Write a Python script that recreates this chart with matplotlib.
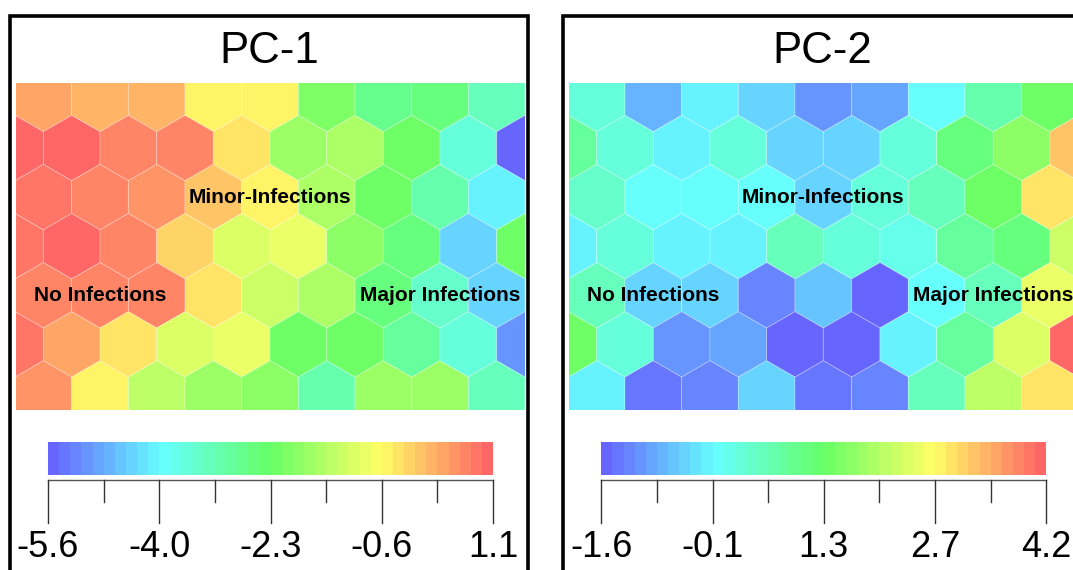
import numpy as np
import matplotlib
matplotlib.use("Agg")
import matplotlib.pyplot as plt
from matplotlib.collections import PolyCollection
from matplotlib.colors import ListedColormap, Normalize, hsv_to_rgb

plt.rcParams['font.family'] = ['Liberation Sans', 'DejaVu Sans']

# ---------------- data ----------------
titles = ["PC-1", "PC-2"]

# SOM node values, rows from top to bottom
# even rows: 9 nodes; odd rows: 10 nodes (first/last half clipped)
pc1_values = [
    [0.36, 0.14, 0.14, -0.59, -0.59, -2.07, -2.71, -2.49, -3.27],
    [1.06, 1.06, 0.59, 0.70, -0.39, -1.73, -1.54, -2.29, -3.63, -5.64],
    [0.89, 0.70, 0.47, 0.00, -0.61, -1.54, -2.29, -2.99, -3.97],
    [0.89, 0.98, 0.56, -0.28, -0.98, -0.81, -1.93, -2.57, -4.38, -2.23],
    [0.70, 0.59, 0.59, -0.42, -1.17, -1.54, -2.49, -3.41, -4.38],
    [0.78, 0.31, -0.42, -0.98, -0.81, -2.18, -2.29, -2.93, -3.63, -5.08],
    [0.39, -0.61, -1.37, -1.73, -1.93, -2.99, -1.73, -1.73, -3.27],
]
pc2_values = [
    [0.15, -0.79, -0.24, -0.43, -1.12, -1.00, -0.04, 0.70, 1.30],
    [0.82, 0.15, -0.24, 0.15, -0.50, -0.57, 0.15, 1.13, 1.66, 3.22],
    [0.34, -0.14, -0.14, -0.14, -0.50, 0.15, 0.46, 1.30, 2.91],
    [-0.24, 0.15, -0.24, -0.24, 0.46, 0.15, 0.03, 0.82, 1.13, 2.26],
    [0.46, -0.50, -0.50, -1.15, -0.67, -1.46, -0.14, 0.46, 2.57],
    [1.30, 0.15, -1.12, -1.00, -1.48, -1.58, -0.24, 0.82, 2.43, 4.18],
    [-0.24, -1.36, -1.15, -0.57, -1.36, -1.24, 0.46, 2.09, 2.91],
]
pc1_range = [-5.64, 1.06]
pc2_range = [-1.58, 4.18]
pc1_tick_labels = ["-5.6", "-4.0", "-2.3", "-0.6", "1.1"]
pc2_tick_labels = ["-1.6", "-0.1", "1.3", "2.7", "4.2"]

region_labels = ["Minor-Infections", "No Infections", "Major Infections"]
region_nodes = [(4.5, 2), (1.5, 4), (7.5, 4)]   # (column position, row)

# ---------------- style ----------------
W, H = 1073, 570
fig = plt.figure(figsize=(W / 100, H / 100), dpi=100)

ncol = 40
hues = np.linspace(2 / 3, 0, ncol)
cmap = ListedColormap(hsv_to_rgb(np.column_stack([hues, np.full(ncol, 0.6), np.ones(ncol)])))


def px_axes(x0, y0, x1, y1):
    a = fig.add_axes([x0 / W, 1 - y1 / H, (x1 - x0) / W, (y1 - y0) / H])
    a.set_axis_off()
    return a


R = 1 / np.sqrt(3)
ROW = np.sqrt(3) / 2
ang = np.deg2rad([90, 150, 210, 270, 330, 30])
hexv = np.column_stack([R * np.cos(ang), R * np.sin(ang)])

overlay = fig.add_axes([0, 0, 1, 1])
overlay.set_xlim(0, W)
overlay.set_ylim(H, 0)
overlay.set_axis_off()
overlay.patch.set_alpha(0)


def draw_panel(dx, title, rows, vrange, tick_labels):
    vmin, vmax = vrange
    norm = Normalize(vmin, vmax)
    ax = px_axes(15.85 + dx, 82.6, 525 + dx, 409.8)
    polys, vals = [], []
    for r, row in enumerate(rows):
        cy = -r * ROW
        off = 0.5 if r % 2 == 0 else 0.0
        for i, v in enumerate(row):
            polys.append(hexv + [i + off, cy])
            vals.append(v)
    pc = PolyCollection(polys, array=np.array(vals), cmap=cmap, norm=norm,
                        edgecolors=(1, 1, 1, 0.3), linewidths=0.6)
    ax.add_collection(pc)
    ax.set_xlim(0.015, 9)
    ax.set_ylim(-6 * ROW - R / 2, R / 2)
    for lab, (cx, rr) in zip(region_labels, region_nodes):
        ax.text(cx, -rr * ROW, lab, ha='center', va='center', fontsize=15,
                fontweight='bold', color='black', clip_on=False)

    # colour key
    bar = px_axes(48 + dx, 441.5, 493 + dx, 475)
    edges = np.linspace(vmin, vmax, ncol + 1)
    mids = (edges[:-1] + edges[1:]) / 2
    bar.pcolormesh(edges, [0, 1], mids[None, :], cmap=cmap, norm=norm)
    bar.set_xlim(vmin, vmax)

    tk = px_axes(48 + dx, 470, 493 + dx, 570)
    tk.set_xlim(vmin, vmax)
    tk.set_ylim(100, 0)
    tk.plot([vmin, vmax], [10, 10], color='#555555', lw=1.0, clip_on=False)
    ticks = np.linspace(vmin, vmax, 9)
    for k, t in enumerate(ticks):
        ln = 43 if k % 2 == 0 else 22
        tk.plot([t, t], [10, 10 + ln], color='#333333', lw=1.0, clip_on=False)
    for t, lab in zip(ticks[::2], tick_labels):
        tk.text(t, 87, lab, ha='center', va='baseline', fontsize=26, clip_on=False)

    # frame and title
    overlay.plot([9.5 + dx, 9.5 + dx, 528 + dx, 528 + dx], [620, 16, 16, 620],
                 color='black', lw=2.6, clip_on=False, solid_joinstyle='miter')
    overlay.text(268.8 + dx, 63, title, ha='center', va='baseline', fontsize=31.5)


draw_panel(0, titles[0], pc1_values, pc1_range, pc1_tick_labels)
draw_panel(553.3, titles[1], pc2_values, pc2_range, pc2_tick_labels)

fig.savefig("out.png", dpi=100)
